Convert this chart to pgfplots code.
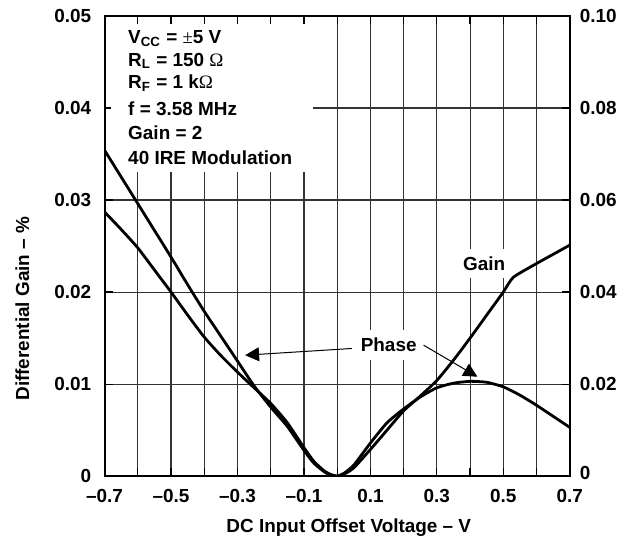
\documentclass[border=0pt]{standalone}
\usepackage{fontspec}
\setmainfont{Liberation Sans}
\newfontfamily\symf{Liberation Serif}
\usepackage{pgfplots}
\pgfplotsset{compat=1.18}
\usetikzlibrary{arrows.meta}
\begin{document}
\fontsize{9.5}{12}\selectfont\bfseries
\begin{tikzpicture}
\begin{axis}[
  scale only axis, width=233.5pt, height=231pt,
  xmin=-0.7, xmax=0.7, ymin=0, ymax=0.05,
  scaled x ticks=false, scaled y ticks=false,
  xtick={-0.7,-0.6,-0.5,-0.4,-0.3,-0.2,-0.1,0,0.1,0.2,0.3,0.4,0.5,0.6,0.7},
  xticklabels={–0.7,{},–0.5,{},–0.3,{},–0.1,{},0.1,{},0.3,{},0.5,{},0.7},
  ytick={0,0.01,0.02,0.03,0.04,0.05},
  yticklabels={0,0.01,0.02,0.03,0.04,0.05},
  grid=major, major grid style={black!80, line width=0.55pt},
  tick align=inside, major tick length=4pt, tick style={black, line width=0.6pt},
  axis line style={line width=1pt},
  xticklabel style={yshift=-3pt}, yticklabel style={xshift=-3.4pt},
  xlabel={DC Input Offset Voltage – V}, ylabel={Differential Gain – \%},
  every axis x label/.style={at={(axis description cs:0.525,-0.1234)}, anchor=base},
  every axis y label/.style={at={(axis description cs:-0.162,0.364)}, rotate=90, anchor=base},
]
\coordinate (SW) at (rel axis cs:0,0);
\coordinate (NE) at (rel axis cs:1,1);
\fill[white] (axis cs:-0.68,0.0491) rectangle (axis cs:-0.073,0.0330);
\node[anchor=base west, inner sep=0pt] at (axis cs:-0.63,0.04699) {V\textsubscript{CC} = {\symf\mdseries ±}5 V};
\node[anchor=base west, inner sep=0pt] at (axis cs:-0.63,0.04456) {R\textsubscript{L} = 150 {\symf\mdseries Ω}};
\node[anchor=base west, inner sep=0pt] at (axis cs:-0.63,0.04211) {R\textsubscript{F} = 1 k{\symf\mdseries Ω}};
\node[anchor=base west, inner sep=0pt] at (axis cs:-0.63,0.03914) {f = 3.58 MHz};
\node[anchor=base west, inner sep=0pt] at (axis cs:-0.63,0.03662) {Gain = 2};
\node[anchor=base west, inner sep=0pt] at (axis cs:-0.63,0.03391) {40 IRE Modulation};
\draw[line width=0.5pt, -{Triangle[length=7pt,width=7pt]}] (axis cs:0.044,0.01387) -- (axis cs:-0.277,0.01314);
\draw[line width=0.5pt, -{Triangle[length=7pt,width=7pt]}] (axis cs:0.26,0.01423) -- (axis cs:0.422,0.0108);
\node[fill=white, inner xsep=3pt, inner ysep=4pt, text height=7pt, text depth=0pt, anchor=base] at (axis cs:0.155,0.01351) {Phase};
\node[fill=white, inner xsep=3pt, inner ysep=4pt, text height=7pt, text depth=0pt, anchor=base] at (axis cs:0.4425,0.02235) {Gain};
% Differential gain (left axis, %)
\addplot[line width=1.4pt, smooth, tension=0.35] coordinates {
(-0.7,0.0287) (-0.65,0.0268) (-0.6,0.0248) (-0.55,0.0224) (-0.5,0.0200)
(-0.45,0.0175) (-0.4,0.0151) (-0.35,0.0131) (-0.3,0.0113) (-0.25,0.0096)
(-0.2,0.0079) (-0.15,0.0058) (-0.1,0.0031) (-0.07,0.0016) (-0.04,0.0006)
(-0.02,0.0002) (0,0.0) (0.02,0.0002) (0.05,0.0009) (0.1,0.0029)
(0.15,0.0050) (0.2,0.0071) (0.25,0.0087) (0.3,0.0104) (0.35,0.0126)
(0.4,0.0150) (0.45,0.0175) (0.5,0.0200) (0.53,0.0216) (0.6,0.0231)
(0.65,0.0241) (0.7,0.0251)
};
\end{axis}
\begin{axis}[
  scale only axis, width=233.5pt, height=231pt,
  xmin=-0.7, xmax=0.7, ymin=0, ymax=0.1,
  hide x axis, axis y line*=right, y axis line style={-},
  scaled y ticks=false,
  ytick={0,0.02,0.04,0.06,0.08,0.1},
  yticklabels={\raisebox{3pt}{0},0.02,0.04,0.06,0.08,0.10},
  tick align=inside, major tick length=4pt, tick style={black, line width=0.6pt},
  axis line style={line width=1pt},
  yticklabel style={xshift=1.7pt},
]
% Differential phase (right axis, degrees)
\addplot[line width=1.4pt, smooth, tension=0.35] coordinates {
(-0.7,0.0708) (-0.65,0.0650) (-0.6,0.0592) (-0.55,0.0534) (-0.5,0.0476)
(-0.45,0.0416) (-0.4,0.0358) (-0.35,0.0304) (-0.3,0.0250) (-0.25,0.0196)
(-0.2,0.0150) (-0.15,0.0108) (-0.1,0.0056) (-0.07,0.0028) (-0.04,0.0010)
(-0.02,0.0002) (0,0.0) (0.02,0.0006) (0.05,0.0024) (0.1,0.0072)
(0.15,0.0116) (0.2,0.0146) (0.25,0.0172) (0.3,0.0192) (0.35,0.0202)
(0.4,0.0206) (0.45,0.0204) (0.5,0.0194) (0.55,0.0176) (0.6,0.0154)
(0.65,0.0130) (0.7,0.0106)
};
\end{axis}
\path ([shift={(-52.5pt,-32pt)}]SW) rectangle ([shift={(25.5pt,8pt)}]NE);
\end{tikzpicture}
\end{document}
